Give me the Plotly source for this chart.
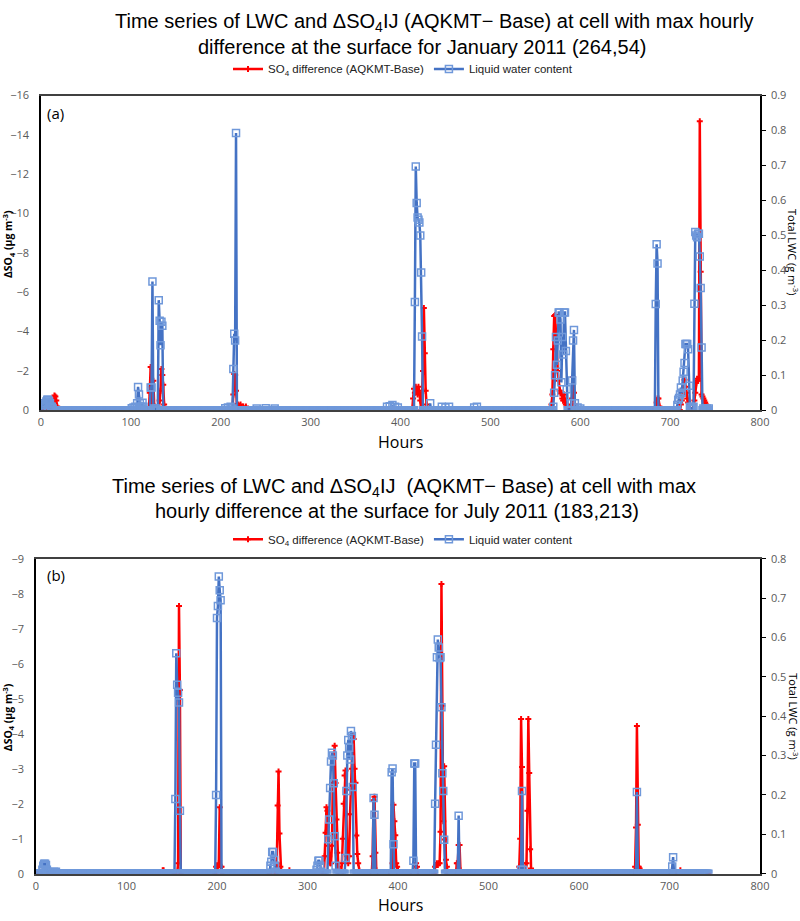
import plotly.graph_objects as go

# ---------------- DATA ----------------
N_HOURS = 744

# January 2011 (panel a) - liquid water content (g m-3), nonzero hours
jan_lwc_hours = [1, 2, 3, 4, 5, 6, 7, 8, 9, 10, 11, 12, 13,
                 101, 103, 105, 107, 108, 109, 110, 111, 112, 113, 114,
                 122, 123, 124, 126, 128, 131, 132, 133, 134, 135,
                 205, 208, 211, 213, 214, 215, 216, 217, 240, 250, 260,
                 385, 388, 391, 394, 397,
                 416, 417, 418, 419, 420, 421, 422, 423, 424, 433, 446, 450, 454, 482, 485,
                 570, 571, 572, 573, 574, 575, 576, 577, 578, 579, 580, 581, 582, 583, 584, 585,
                 590, 591, 592, 593, 594, 597, 600,
                 684, 685, 686,
                 708, 709, 710, 711, 712, 713, 714, 715, 716, 717, 718, 719, 720, 721, 722,
                 723, 724, 725, 726, 727, 728, 729, 730, 731, 732, 733, 734, 735,
                 737, 739, 741, 743]
jan_lwc_vals = [0.01, 0.015, 0.02, 0.015, 0.02, 0.025, 0.03, 0.03, 0.025, 0.02, 0.01, 0.01, 0.005,
                0.006, 0.008, 0.01, 0.02, 0.067, 0.045, 0.02, 0.005, 0.01, 0.022, 0.01,
                0.065, 0.065, 0.368, 0.005, 0.005, 0.315, 0.256, 0.186, 0.253, 0.242,
                0.006, 0.008, 0.01, 0.005, 0.118, 0.219, 0.20, 0.793, 0.005, 0.006, 0.005,
                0.01, 0.012, 0.015, 0.01, 0.008,
                0.31, 0.697, 0.593, 0.551, 0.545, 0.537, 0.50, 0.394, 0.211, 0.02, 0.01, 0.008, 0.01, 0.008, 0.01,
                0.01, 0.05, 0.10, 0.21, 0.13, 0.20, 0.28, 0.28, 0.26, 0.08, 0.21, 0.16, 0.28, 0.28, 0.17, 0.06,
                0.02, 0.085, 0.20, 0.23, 0.02, 0.008, 0.005,
                0.304, 0.475, 0.42,
                0.015, 0.03, 0.035, 0.045, 0.065, 0.05, 0.085, 0.11, 0.135, 0.19, 0.19, 0.19, 0.175, 0.07, 0.01,
                0.005, 0.005, 0.005, 0.01, 0.305, 0.51, 0.50, 0.495, 0.505, 0.505, 0.44, 0.35, 0.18,
                0.005, 0.005, 0.005, 0.005]

# January 2011 (panel a) - SO4 difference (ug m-3), nonzero hours
jan_so4_hours = [14, 15, 16, 17, 18,
                 121, 122, 123, 124, 125, 126, 132, 133, 134, 135, 136, 137,
                 214, 215, 216, 217, 218, 219, 220, 222, 225, 228,
                 414, 415, 416, 417, 418, 419, 420, 421, 422, 424, 425, 426, 427, 428, 429,
                 568, 569, 570, 571, 572, 573, 574, 575, 576, 577, 578, 579, 580, 581, 582, 583, 584, 585,
                 590, 591, 592, 593, 594,
                 685, 686, 687, 688,
                 712, 713, 714, 715, 716, 717, 718, 719, 720, 721,
                 726, 727, 728, 729, 730, 731, 732, 733, 734, 735, 736, 737, 738, 739, 740, 741]
jan_so4_vals = [-0.4, -0.75, -0.7, -0.5, -0.2,
                -0.9, -2.2, -1.2, -0.3, -1.5, -0.2, -0.5, -1.0, -2.1, -1.8, -1.3, -0.3,
                -0.8, -1.85, -1.8, -1.0, -0.3, -0.3, -0.25, -0.3, -0.2, -0.2,
                -0.6, -1.1, -0.9, -1.2, -1.0, -0.8, -1.2, -0.9, -0.5, -1.0, -2.0, -5.2, -2.9, -1.0, -0.3,
                -0.3, -0.8, -3.1, -4.8, -4.85, -3.8, -3.6, -2.0, -1.5, -1.0, -0.85, -0.9, -0.6, -0.5, -0.8, -0.4, -0.3, -0.2,
                -0.3, -0.6, -1.7, -0.9, -0.3,
                -0.4, -0.6, -0.6, -0.2,
                -0.3, -0.5, -0.8, -1.0, -1.55, -1.2, -0.9, -0.6, -0.4, -0.3,
                -0.3, -0.5, -0.9, -1.4, -1.6, -1.5, -1.6, -14.7, -7.05, -0.8, -0.7, -0.6, -0.5, -0.4, -0.3, -0.2]

# July 2011 (panel b) - liquid water content (g m-3), nonzero hours
jul_lwc_hours = [7, 8, 9, 10, 11, 12, 13, 20, 22,
                 154, 155, 156, 157, 158, 159,
                 199, 200, 201, 202, 203, 204,
                 259, 260, 261, 262, 263, 264, 265,
                 310, 311, 312, 313, 314, 315,
                 323, 324, 325, 326, 327, 328, 329, 330, 331,
                 342, 343, 344, 345, 346, 347, 348, 349, 350,
                 373, 374, 393, 394, 395, 417, 418, 419,
                 441, 442, 443, 444, 445, 446, 447, 448, 449, 450, 451,
                 467, 536, 537, 538, 664, 703, 704]
jul_lwc_vals = [0.01, 0.02, 0.025, 0.025, 0.022, 0.01, 0.005, 0.005, 0.005,
                0.19, 0.56, 0.48, 0.46, 0.435, 0.16,
                0.20, 0.65, 0.68, 0.755, 0.72, 0.695,
                0.02, 0.03, 0.055, 0.055, 0.035, 0.02, 0.005,
                0.01, 0.02, 0.033, 0.033, 0.02, 0.005,
                0.0875, 0.1375, 0.2175, 0.285, 0.3075, 0.30, 0.23, 0.095, 0.02,
                0.04, 0.21, 0.30, 0.34, 0.32, 0.29, 0.3625, 0.35, 0.22,
                0.1925, 0.15, 0.2575, 0.2675, 0.075, 0.033, 0.28, 0.28,
                0.1775, 0.3275, 0.55, 0.595, 0.575, 0.548, 0.55, 0.423, 0.255, 0.21, 0.086,
                0.1475, 0.01, 0.21, 0.01, 0.2075, 0.018, 0.042]

# July 2011 (panel b) - SO4 difference (ug m-3), nonzero hours
jul_so4_hours = [85, 88, 140, 141,
                 157, 158, 159, 160,
                 199, 200, 201, 202, 203, 204, 205,
                 266, 267, 268, 269, 270, 280,
                 319, 320, 321, 322, 323, 324, 325, 326, 327, 328, 329, 330, 331, 332, 333, 334,
                 338, 339, 340, 341, 342, 343, 344, 345, 346, 347, 348, 349, 350, 351, 352, 353,
                 354, 355, 356, 357,
                 372, 373, 374, 375, 376,
                 394, 395, 396, 397, 398, 399, 400, 420, 421,
                 441, 442, 443, 444, 445, 446, 447, 448, 449, 450, 451, 452, 453, 454,
                 465, 466, 467, 468, 469,
                 534, 535, 536, 537, 538, 539, 542, 543, 544, 545, 546, 547,
                 555, 560, 590, 620, 640,
                 662, 663, 664, 665, 666, 667, 668, 700, 712]
jul_so4_vals = [-0.05, -0.05, -0.1, -0.1,
                -0.3, -7.65, -5.25, -0.1,
                -0.2, -0.2, -0.2, -0.3, -1.9, -0.2, -0.2,
                -0.3, -1.95, -2.92, -1.15, -0.2, -0.1,
                -0.5, -1.17, -1.9, -1.8, -0.8, -0.5, -0.3, -0.3, -0.8, -2.6, -2.5, -3.66, -2.59, -1.55, -0.6, -0.2,
                -0.3, -1.0, -2.0, -2.81, -2.95, -1.7, -0.5, -0.3, -0.5, -1.7, -2.4, -3.0, -3.94, -3.85, -3.0, -2.6,
                -1.09, -0.56, -0.3, -0.1,
                -0.5, -2.1, -2.2, -0.6, -0.1,
                -0.3, -1.97, -1.5, -1.1, -0.3, -0.2, -0.1, -0.3, -0.2,
                -0.2, -0.25, -0.3, -0.25, -0.3, -0.3, -1.2, -8.28, -4.8, -1.5, -3.07, -0.98, -0.4, -0.2,
                -0.3, -0.3, -0.82, -0.82, -0.1,
                -0.2, -1.0, -4.42, -3.05, -0.3, -0.1, -0.3, -1.8, -4.42, -2.88, -0.7, -0.15,
                -0.05, -0.05, -0.05, -0.05, -0.05,
                -0.2, -1.32, -4.22, -1.4, -0.2, -0.15, -0.1, -0.05, -0.1]

# Axis ticks
x_ticks = [0, 100, 200, 300, 400, 500, 600, 700, 800]
jan_left_ticks = [0, -2, -4, -6, -8, -10, -12, -14, -16]
jul_left_ticks = [0, -1, -2, -3, -4, -5, -6, -7, -8, -9]
jan_right_ticks = [0, 0.1, 0.2, 0.3, 0.4, 0.5, 0.6, 0.7, 0.8, 0.9]
jul_right_ticks = [0, 0.1, 0.2, 0.3, 0.4, 0.5, 0.6, 0.7, 0.8]

# Hourly series: hours without a visible departure read as 0
hours = list(range(N_HOURS))


def hourly(h_list, v_list):
    s = [0.0] * N_HOURS
    for h, v in zip(h_list, v_list):
        s[h] = v
    return s


jan_lwc = hourly(jan_lwc_hours, jan_lwc_vals)
jan_so4 = hourly(jan_so4_hours, jan_so4_vals)
jul_lwc = hourly(jul_lwc_hours, jul_lwc_vals)
jul_so4 = hourly(jul_so4_hours, jul_so4_vals)

# ---------------- STYLE / LAYOUT ----------------
W, H = 800, 921
ML, MR = 36, 40
PW = W - ML - MR


def px(xp):
    return (xp - ML) / PW


def py(yp):
    return 1 - yp / H


RED = "#FF0000"
BLUE = "#4472C4"
BLUE_MK = "#6F98DA"
TICK_FONT = dict(family="Open Sans, Noto Sans, sans-serif", size=11, color="#595959")
TITLE_FONT = "Liberation Sans, Arial, sans-serif"
LEG_FONT = dict(family="Liberation Sans Narrow, Arial Narrow, Liberation Sans, Arial", size=11.5, color="#222")

red_kw = dict(mode="lines+markers", line=dict(color=RED, width=2.5),
              marker=dict(symbol="cross", size=5, color=RED),
              name="SO<sub>4</sub> difference (AQKMT-Base)")
blue_kw = dict(mode="lines+markers", line=dict(color=BLUE, width=2.5),
               marker=dict(symbol="square-open", size=7, color=BLUE_MK, line=dict(width=1.5)),
               name="Liquid water content")

fig = go.Figure()
fig.add_trace(go.Scatter(x=hours, y=jan_so4, xaxis="x", yaxis="y", legend="legend", **red_kw))
fig.add_trace(go.Scatter(x=hours, y=jan_lwc, xaxis="x", yaxis="y2", legend="legend", **blue_kw))
fig.add_trace(go.Scatter(x=hours, y=jul_so4, xaxis="x2", yaxis="y3", legend="legend2", **red_kw))
fig.add_trace(go.Scatter(x=hours, y=jul_lwc, xaxis="x2", yaxis="y4", legend="legend2", **blue_kw))

dom_a = [py(409), py(89)]
dom_b = [py(880), py(560)]

xcommon = dict(range=[0, 800], tickvals=x_ticks, showgrid=False, zeroline=False,
               showline=True, linecolor="#404040", linewidth=1.5, mirror=True,
               ticks="", tickfont=TICK_FONT, ticklabelstandoff=1)
ylcommon = dict(showgrid=False, zeroline=False, showline=True, linecolor="#000000", linewidth=1.5,
                ticks="", tickfont=TICK_FONT, ticklabelstandoff=8)
yrcommon = dict(showgrid=False, zeroline=False, showline=True, linecolor="#000000", linewidth=1.5,
                ticks="outside", ticklen=4, tickcolor="#000000", tickfont=TICK_FONT, ticklabelstandoff=3,
                side="right")

fig.update_layout(
    width=W, height=H, autosize=False,
    margin=dict(l=ML, r=MR, t=0, b=0),
    paper_bgcolor="white", plot_bgcolor="white",
    xaxis=dict(domain=[px(41), 1], anchor="y", **xcommon),
    yaxis=dict(domain=dom_a, range=[0, -16], tickvals=jan_left_ticks, anchor="x", **ylcommon),
    yaxis2=dict(overlaying="y", range=[0, 0.9], tickvals=jan_right_ticks, anchor="x", **yrcommon),
    xaxis2=dict(domain=[0, 1], anchor="y3", **xcommon),
    yaxis3=dict(domain=dom_b, range=[0, -9], tickvals=jul_left_ticks, anchor="x2", **ylcommon),
    yaxis4=dict(overlaying="y3", range=[0, 0.8], tickvals=jul_right_ticks, anchor="x2", **yrcommon),
    legend=dict(orientation="h", x=px(403), y=py(62), xanchor="center", yanchor="middle",
                font=LEG_FONT, bgcolor="rgba(0,0,0,0)", itemwidth=30, tracegroupgap=0),
    legend2=dict(orientation="h", x=px(403), y=py(540), xanchor="center", yanchor="middle",
                 font=LEG_FONT, bgcolor="rgba(0,0,0,0)", itemwidth=30, tracegroupgap=0),
    showlegend=True,
)

anns = []


def ann(text, x, y, size, family=TITLE_FONT, color="#000", angle=0, **kw):
    anns.append(dict(text=text, x=px(x), y=py(y), xref="paper", yref="paper",
                     showarrow=False, textangle=angle, xanchor="center", yanchor="middle",
                     font=dict(family=family, size=size, color=color), **kw))


# Titles
ann("Time series of LWC and \u0394SO<sub>4</sub>IJ (AQKMT\u2212 Base) at cell with max hourly", 434, 15, 20)
ann("difference at the surface for January 2011 (264,54)", 422, 40, 20)
ann("Time series of LWC and \u0394SO<sub>4</sub>IJ  (AQKMT\u2212 Base) at cell with max", 404, 487, 20)
ann("hourly difference at the surface for July 2011 (183,213)", 397, 511, 20)

# Panel labels
ann("(a)", 55, 107, 15, family="Open Sans, Noto Sans, sans-serif")
ann("(b)", 56, 576, 15, family="Open Sans, Noto Sans, sans-serif")

# Axis titles
ann("<b>\u0394SO<sub>4</sub> (\u03bcg m<sup>-3</sup>)</b>", 8, 240, 10.5,
    family="Open Sans, Noto Sans, sans-serif", angle=-90)
ann("<b>\u0394SO<sub>4</sub> (\u03bcg m<sup>-3</sup>)</b>", 8, 721, 10.5,
    family="Open Sans, Noto Sans, sans-serif", angle=-90)
ann("Total LWC (g m<sup>-3</sup>)", 793, 248, 11, family="Open Sans, Noto Sans, sans-serif", angle=90)
ann("Total LWC (g m<sup>-3</sup>)", 793, 720, 11, family="Open Sans, Noto Sans, sans-serif", angle=90)
ann("Hours", 400, 441, 16, family="Open Sans, Noto Sans, sans-serif")
ann("Hours", 400, 912, 16, family="Open Sans, Noto Sans, sans-serif")

fig.update_layout(annotations=anns)
fig.write_html("out.html", config={"displayModeBar": False},
               post_script="document.body.style.margin='0px';document.body.style.overflow='hidden';")
